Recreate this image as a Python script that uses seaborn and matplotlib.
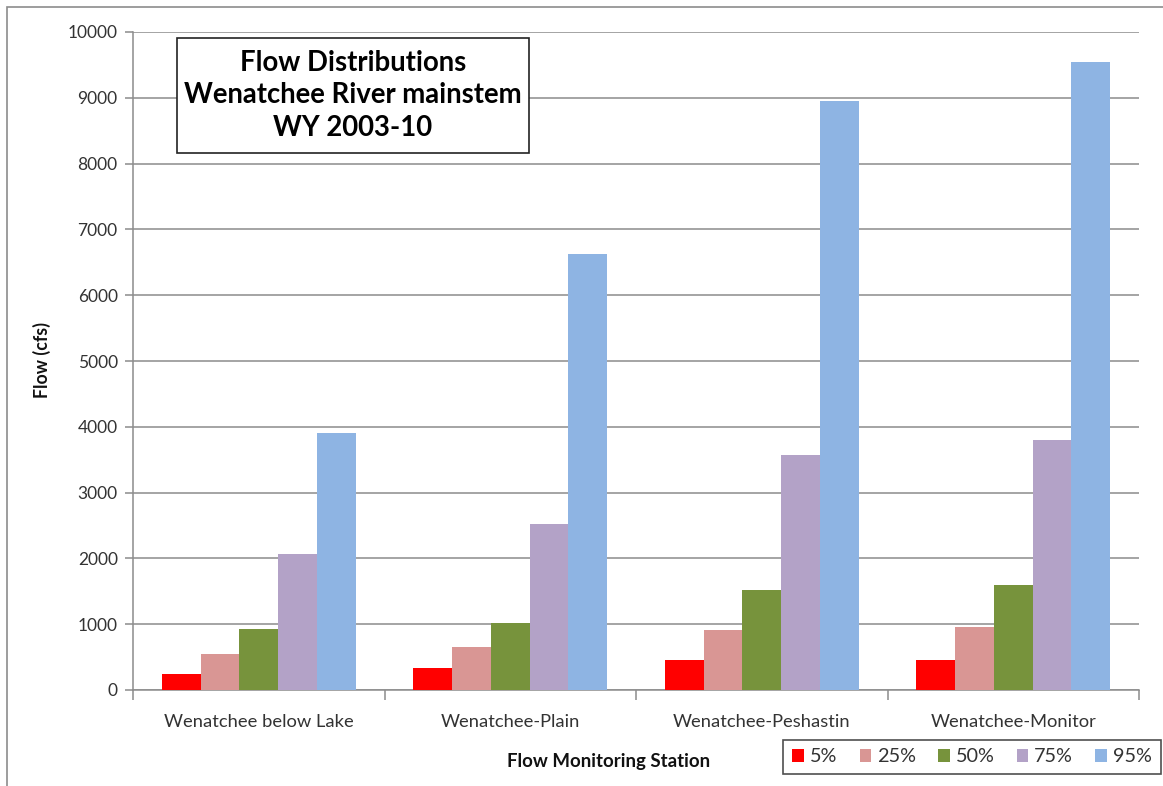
import matplotlib
matplotlib.use("Agg")
import matplotlib.pyplot as plt
from matplotlib.patches import Rectangle, Patch
from matplotlib.ticker import FixedLocator, MultipleLocator
import seaborn as sns
import pandas as pd

# Flow percentiles (cfs) at each monitoring station, WY 2003-10
stations = ["Wenatchee below Lake", "Wenatchee-Plain",
            "Wenatchee-Peshastin", "Wenatchee-Monitor"]
percentiles = ["5%", "25%", "50%", "75%", "95%"]
p5 = [240, 330, 455, 455]
p25 = [545, 655, 915, 960]
p50 = [925, 1020, 1520, 1600]
p75 = [2070, 2530, 3570, 3800]
p95 = [3900, 6620, 8950, 9540]
colors = ["#FF0000", "#D99694", "#77933C", "#B3A2C7", "#8EB4E3"]

series = [p5, p25, p50, p75, p95]
rows = []
for pct, vals in zip(percentiles, series):
    for st, v in zip(stations, vals):
        rows.append({"Station": st, "Percentile": pct, "Flow": v})
df = pd.DataFrame(rows)

sns.set_theme(style="white")
plt.rcParams["font.family"] = ["Lato", "DejaVu Sans"]

W, H = 1163, 786
fig = plt.figure(figsize=(W / 100, H / 100), dpi=100)
ax = fig.add_axes([133 / W, 1 - 690 / H, (1139 - 133) / W, (690 - 32) / H])

sns.barplot(data=df, x="Station", y="Flow", hue="Percentile",
            order=stations, hue_order=percentiles, palette=colors,
            width=0.77, gap=0, saturation=1, errorbar=None,
            edgecolor="none", linewidth=0, ax=ax, legend=False, zorder=3)

ax.set_ylim(0, 10000)
ax.set_xlim(-0.5, len(stations) - 0.5)
ax.yaxis.set_major_locator(MultipleLocator(1000))
ax.grid(axis="y", color="#8C8C8C", linewidth=1.1, zorder=0)
ax.set_axisbelow(True)

for side in ["top", "right"]:
    ax.spines[side].set_visible(False)
for side in ["left", "bottom"]:
    ax.spines[side].set_color("#8C8C8C")
    ax.spines[side].set_linewidth(1.1)

ax.tick_params(axis="y", which="major", left=True, length=6, width=1.1,
               color="#8C8C8C", labelsize=12.5, labelcolor="#333333", pad=5)
ax.tick_params(axis="x", which="major", bottom=False, labelsize=13.2,
               labelcolor="#333333", pad=11)
ax.xaxis.set_minor_locator(FixedLocator([i + 0.5 for i in range(-1, len(stations))]))
ax.tick_params(axis="x", which="minor", bottom=True, length=7, width=1.1,
               color="#8C8C8C")

ax.set_xlabel("")
ax.set_ylabel("")
fig.text(42 / W, 1 - 360 / H, "Flow (cfs)", rotation=90, ha="center",
         va="center", fontsize=12.8, fontweight="bold", color="#111111")
fig.text(609 / W, 1 - 762 / H, "Flow Monitoring Station", ha="center",
         va="center", fontsize=13.4, fontweight="bold", color="#111111")

# title box inside the plot area
ax.add_patch(Rectangle((0.0437, 0.816), 0.35, 0.1748, transform=ax.transAxes,
                       facecolor="white", edgecolor="#222222", linewidth=1.2,
                       zorder=5))
ax.text(0.2187, 0.9035,
        "Flow Distributions\nWenatchee River mainstem\nWY 2003-10",
        transform=ax.transAxes, ha="center", va="center", fontsize=19.8,
        fontweight="bold", color="#000000", linespacing=1.3, zorder=6)

# legend below the axes, bottom right
handles = [Patch(facecolor=c, edgecolor="none") for c in colors]
leg = fig.legend(handles, percentiles, ncol=5, loc="center",
                 bbox_to_anchor=(972 / W, 1 - 757 / H), frameon=True,
                 fontsize=14.3, handlelength=0.57, handleheight=0.57,
                 handletextpad=0.3, columnspacing=1.13, borderpad=0.45,
                 borderaxespad=0, fancybox=False)
leg.get_frame().set_edgecolor("#222222")
leg.get_frame().set_linewidth(1.2)
for t in leg.get_texts():
    t.set_color("#333333")

# outer chart frame (top and left edges visible)
fig.patches.append(Rectangle((7 / W, -0.05), 1.2, 1 - 7 / H + 0.05,
                             transform=fig.transFigure, fill=False,
                             edgecolor="#8C8C8C", linewidth=1.2))

fig.savefig("out.png", dpi=100, facecolor="white")
